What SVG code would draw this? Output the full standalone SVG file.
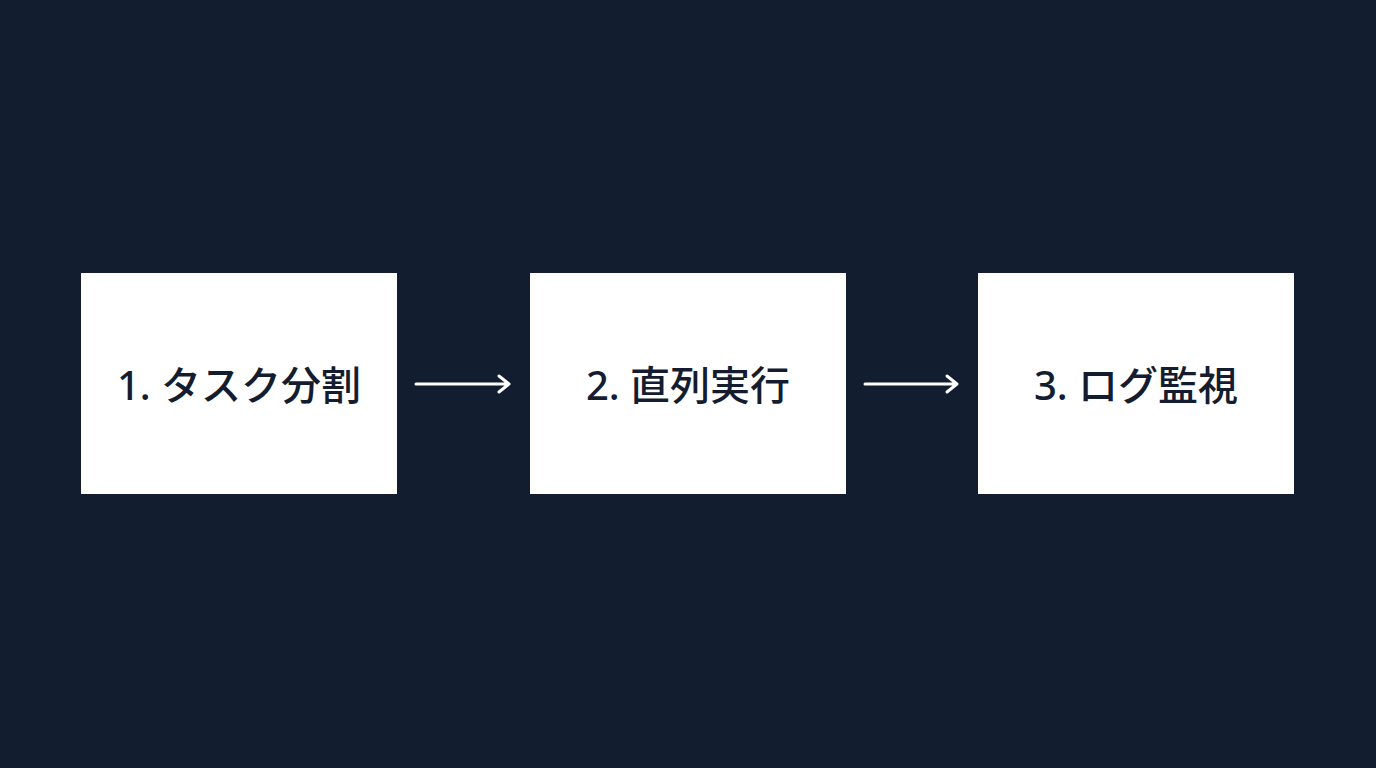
<svg xmlns="http://www.w3.org/2000/svg" width="1376" height="768" viewBox="0 0 1376 768">
<style>
.box{fill:#ffffff}
.lbl{font-family:"Noto Sans","Noto Sans CJK JP",sans-serif;font-size:40px;font-weight:500;fill:#131d2f;text-anchor:middle;dominant-baseline:central}
.con{stroke:#ffffff;stroke-width:3;fill:none;stroke-linecap:round;stroke-linejoin:round}
</style>
<rect width="1376" height="768" fill="#121d2f"/>
<g id="node1"><rect class="box" x="81" y="273" width="316" height="221"/><text class="lbl" x="239" y="384">1. タスク分割</text></g>
<g id="node2"><rect class="box" x="530" y="273" width="316" height="221"/><text class="lbl" x="688" y="384">2. 直列実行</text></g>
<g id="node3"><rect class="box" x="978" y="273" width="316" height="221"/><text class="lbl" x="1136" y="384">3. ログ監視</text></g>
<g id="connectors">
<path class="con" d="M416 384H509M499 376L509 384L499 392"/>
<path class="con" d="M865 384H957M947 376L957 384L947 392"/>
</g>
</svg>
